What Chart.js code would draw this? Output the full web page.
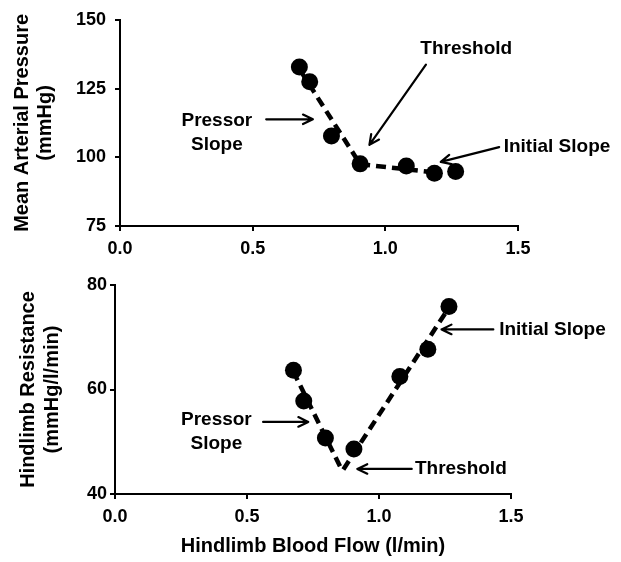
<!DOCTYPE html>
<html>
<head>
<meta charset="utf-8">
<script src="https://cdn.jsdelivr.net/npm/chart.js@4/dist/chart.umd.min.js"></script>
<style>
  html, body { margin: 0; padding: 0; background: #fff; }
  #wrap { position: relative; width: 621px; height: 562px; }
  canvas { position: absolute; left: 0; }
</style>
</head>
<body>
<div id="wrap">
  <canvas id="mapChart" width="621" height="262" style="top:0"></canvas>
  <canvas id="resChart" width="621" height="300" style="top:262px"></canvas>
</div>
<script>
// Hindlimb blood flow (l/min) for each step
const flow = [0.676, 0.715, 0.797, 0.905, 1.079, 1.185, 1.265];
// Mean arterial pressure (mmHg) at each flow step
const mapValues = [132.8, 127.5, 107.7, 97.6, 96.8, 94.2, 94.8];
// Hindlimb resistance (mmHg/l/min) at each flow step
const resValues = [63.7, 57.8, 50.7, 48.6, 62.5, 67.7, 75.9];

// Fitted segments: [flow, value] end points
const mapPressorLine = [[0.68, 131.5], [0.905, 97.5]];
const mapInitialLine = [[0.905, 97.5], [1.185, 94.5]];
const resPressorLine = [[0.675, 63.5], [0.86, 44.5]];
const resInitialLine = [[0.865, 44.7], [1.269, 76.0]];

// Tick labels
const flowTicks = [0.0, 0.5, 1.0, 1.5];
const mapTicks = [75, 100, 125, 150];
const resTicks = [40, 60, 80];

const FONT = '"Liberation Sans", Arial, Helvetica, sans-serif';
const INK = '#000';

// Callout labels and arrows, placed in data units
const mapNotes = {
  labels: [
    { text: ['Pressor', 'Slope'], x: 0.365, y: 113.2 },
    { text: ['Threshold'], x: 1.305, y: 139.3 },
    { text: ['Initial Slope'], x: 1.647, y: 103.9 }
  ],
  arrows: [
    { from: [0.551, 113.8], to: [0.727, 113.8] },
    { from: [1.153, 133.7], to: [0.940, 104.5] },
    { from: [1.429, 103.7], to: [1.209, 98.3] }
  ]
};
const resNotes = {
  labels: [
    { text: ['Pressor', 'Slope'], x: 0.384, y: 54.2 },
    { text: ['Threshold'], x: 1.310, y: 44.8 },
    { text: ['Initial Slope'], x: 1.657, y: 71.5 }
  ],
  arrows: [
    { from: [0.561, 53.8], to: [0.732, 53.8] },
    { from: [1.124, 44.8], to: [0.918, 44.8] },
    { from: [1.433, 71.5], to: [1.237, 71.5] }
  ]
};

function calloutPlugin(notes) {
  return {
    id: 'callouts',
    afterDatasetsDraw(chart) {
      const ctx = chart.ctx;
      const xs = chart.scales.x, ys = chart.scales.y;
      ctx.save();
      ctx.fillStyle = INK;
      ctx.strokeStyle = INK;
      ctx.font = 'bold 19px ' + FONT;
      ctx.textAlign = 'center';
      ctx.textBaseline = 'middle';
      notes.labels.forEach(l => {
        const px = xs.getPixelForValue(l.x);
        const py = ys.getPixelForValue(l.y);
        l.text.forEach((t, i) => ctx.fillText(t, px, py + i * 24));
      });
      ctx.lineWidth = 2.2;
      ctx.lineCap = 'round';
      ctx.lineJoin = 'round';
      notes.arrows.forEach(a => {
        const x1 = xs.getPixelForValue(a.from[0]), y1 = ys.getPixelForValue(a.from[1]);
        const x2 = xs.getPixelForValue(a.to[0]), y2 = ys.getPixelForValue(a.to[1]);
        const ang = Math.atan2(y2 - y1, x2 - x1);
        const head = 11, spread = 0.45;
        ctx.beginPath();
        ctx.moveTo(x1, y1);
        ctx.lineTo(x2, y2);
        ctx.moveTo(x2 - head * Math.cos(ang - spread), y2 - head * Math.sin(ang - spread));
        ctx.lineTo(x2, y2);
        ctx.lineTo(x2 - head * Math.cos(ang + spread), y2 - head * Math.sin(ang + spread));
        ctx.stroke();
      });
      ctx.restore();
    }
  };
}

function toPoints(xsArr, ysArr) {
  return xsArr.map((x, i) => ({ x, y: ysArr[i] }));
}
function fitDataset(seg) {
  return {
    data: seg.map(([x, y]) => ({ x, y })),
    showLine: true,
    borderColor: INK,
    borderWidth: 4.5,
    borderDash: [10, 6],
    pointRadius: 0,
    clip: false,
    order: 1
  };
}

function buildChart(canvasId, o) {
  const tickFont = { family: FONT, size: 18, weight: 'bold' };
  const titleFont = { family: FONT, size: 20, weight: 'bold', lineHeight: o.yTitleLH };
  const gridOpts = { display: true, drawOnChartArea: false, drawTicks: true, tickLength: 5, color: INK, lineWidth: 2 };
  return new Chart(document.getElementById(canvasId), {
    type: 'scatter',
    data: {
      datasets: [
        {
          data: toPoints(flow, o.values),
          pointRadius: 8.5,
          pointBackgroundColor: INK,
          pointBorderColor: INK,
          pointBorderWidth: 0,
          clip: false,
          order: 0
        },
        ...o.fits.map(fitDataset)
      ]
    },
    options: {
      responsive: false,
      animation: false,
      devicePixelRatio: 1,
      layout: { padding: { top: o.padTop, right: o.padRight, left: 0, bottom: 0 } },
      plugins: { legend: { display: false }, tooltip: { enabled: false } },
      scales: {
        x: {
          type: 'linear',
          min: 0, max: 1.5,
          afterBuildTicks: s => { s.ticks = flowTicks.map(v => ({ value: v })); },
          afterFit: s => { s.height = o.xHeight; },
          ticks: { font: tickFont, color: INK, padding: 7, callback: v => Number(v).toFixed(1) },
          grid: gridOpts,
          border: { display: true, color: INK, width: 2 },
          title: o.xTitle ? {
            display: true, text: o.xTitle, color: INK,
            font: { family: FONT, size: 20, weight: 'bold', lineHeight: 1.15 },
            padding: { top: 0, bottom: 4 }
          } : { display: false }
        },
        y: {
          type: 'linear',
          min: o.ticks[0], max: o.ticks[o.ticks.length - 1],
          afterBuildTicks: s => { s.ticks = o.ticks.map(v => ({ value: v })); },
          afterFit: s => { s.width = o.yWidth; },
          ticks: { font: tickFont, color: INK, padding: o.yTickPad, callback: v => String(v) },
          grid: gridOpts,
          border: { display: true, color: INK, width: 2 },
          title: {
            display: true, text: o.yTitle, color: INK, font: titleFont,
            padding: { top: o.yTitlePad, bottom: 0 }
          }
        }
      }
    },
    plugins: [calloutPlugin(o.notes)]
  });
}

buildChart('mapChart', {
  values: mapValues,
  fits: [mapPressorLine, mapInitialLine],
  ticks: mapTicks,
  yTitle: ['Mean Arterial Pressure', '(mmHg)'],
  yTitleLH: 1.15, yTitlePad: 11,
  yTickPad: 9,
  padTop: 16, padRight: 103,
  yWidth: 120, xHeight: 36,
  notes: mapNotes
});

buildChart('resChart', {
  values: resValues,
  fits: [resPressorLine, resInitialLine],
  ticks: resTicks,
  yTitle: ['Hindlimb Resistance', '(mmHg/l/min)'],
  yTitleLH: 1.2, yTitlePad: 16,
  yTickPad: 3,
  padTop: 23, padRight: 110,
  yWidth: 115, xHeight: 68,
  xTitle: 'Hindlimb Blood Flow (l/min)',
  notes: resNotes
});
</script>
</body>
</html>
